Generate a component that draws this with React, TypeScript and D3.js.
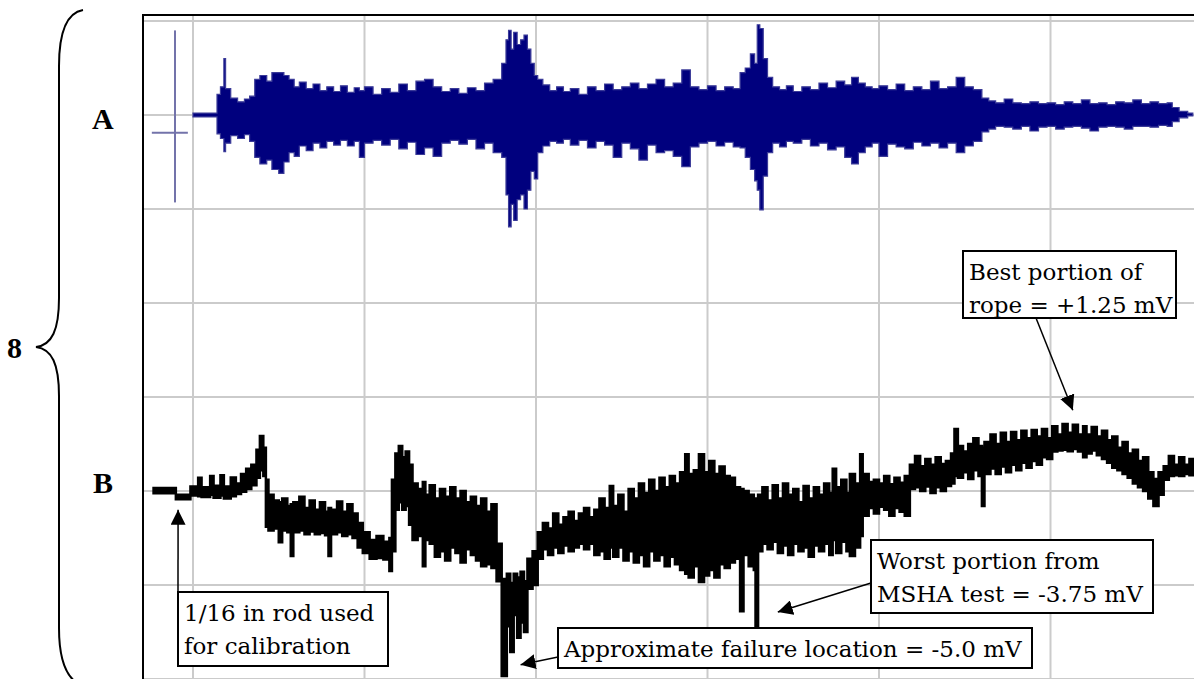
import React, { useEffect, useRef } from 'react'
import * as d3 from 'd3'

// trace A (blue, upper) – envelope in grid divisions, position in tenths of a grid
const aPos = [0, 1.3, 1.4, 1.6, 1.8, 1.9, 2.2, 2.6, 3.0, 3.3, 3.6, 3.9, 4.3, 4.6, 5.0, 5.3, 5.6, 5.9, 6.2, 6.6, 7.0, 7.4, 7.8, 8.2, 8.6, 9.0, 9.4, 9.7, 10.0, 10.5, 11.0, 11.5, 12.0, 12.5, 13.0, 13.5, 14.0, 14.5, 15.0, 15.5, 16.0, 16.5, 17.0, 17.5, 18.0, 18.25, 18.4, 18.55, 18.7, 18.9, 19.1, 19.3, 19.5, 19.7, 19.9, 20.1, 20.4, 20.8, 21.2, 21.6, 22.0, 22.5, 23.0, 23.5, 24.0, 24.5, 25.0, 25.5, 26.0, 26.5, 27.0, 27.5, 28.0, 28.5, 29.0, 29.5, 30.0, 30.5, 31.0, 31.5, 31.9, 32.2, 32.5, 32.75, 32.9, 33.05, 33.25, 33.5, 33.8, 34.2, 34.6, 35.0, 35.5, 36.0, 36.5, 37.0, 37.5, 38.0, 38.4, 38.8, 39.2, 39.6, 40.0, 40.5, 41.0, 41.5, 42.0, 42.5, 43.0, 43.5, 44.0, 44.5, 45.0, 45.5, 46.0, 46.4, 46.8, 47.3, 47.8, 48.3, 48.8, 49.3, 49.8, 50.3, 50.8, 51.3, 51.8, 52.3, 52.8, 53.3, 53.8, 54.3, 54.8, 55.3, 55.8, 56.3, 56.8, 57.1, 57.5, 58.0, 58.3]
const aHigh = [0.02, 0.02, 0.22, 0.3, 0.6, 0.28, 0.18, 0.14, 0.17, 0.2, 0.38, 0.42, 0.36, 0.45, 0.45, 0.42, 0.38, 0.3, 0.35, 0.28, 0.33, 0.26, 0.3, 0.25, 0.31, 0.24, 0.29, 0.26, 0.3, 0.22, 0.28, 0.24, 0.33, 0.26, 0.36, 0.38, 0.3, 0.25, 0.28, 0.23, 0.29, 0.26, 0.34, 0.38, 0.55, 0.8, 0.9, 0.7, 0.88, 0.75, 0.8, 0.85, 0.7, 0.55, 0.42, 0.38, 0.32, 0.26, 0.3, 0.25, 0.28, 0.22, 0.3, 0.26, 0.33, 0.27, 0.3, 0.34, 0.28, 0.33, 0.38, 0.3, 0.34, 0.48, 0.3, 0.27, 0.31, 0.26, 0.3, 0.28, 0.45, 0.5, 0.65, 0.55, 0.96, 0.92, 0.6, 0.4, 0.3, 0.27, 0.31, 0.25, 0.3, 0.27, 0.34, 0.29, 0.36, 0.32, 0.4, 0.34, 0.3, 0.28, 0.31, 0.27, 0.33, 0.26, 0.3, 0.27, 0.36, 0.28, 0.3, 0.4, 0.3, 0.27, 0.18, 0.15, 0.13, 0.17, 0.13, 0.12, 0.14, 0.12, 0.13, 0.11, 0.14, 0.12, 0.16, 0.12, 0.13, 0.11, 0.14, 0.13, 0.16, 0.12, 0.14, 0.12, 0.13, 0.08, 0.04, 0.02, 0.01]
const aLow = [-0.02, -0.02, -0.2, -0.25, -0.39, -0.3, -0.22, -0.25, -0.21, -0.28, -0.45, -0.52, -0.48, -0.58, -0.62, -0.5, -0.4, -0.44, -0.33, -0.38, -0.3, -0.35, -0.28, -0.32, -0.27, -0.33, -0.28, -0.45, -0.3, -0.27, -0.32, -0.26, -0.36, -0.29, -0.42, -0.35, -0.44, -0.3, -0.27, -0.31, -0.26, -0.36, -0.3, -0.4, -0.45, -0.85, -1.19, -0.95, -1.12, -0.9, -0.85, -1.0, -0.8, -0.6, -0.68, -0.4, -0.33, -0.28, -0.3, -0.26, -0.32, -0.27, -0.35, -0.28, -0.32, -0.45, -0.3, -0.36, -0.48, -0.32, -0.4, -0.38, -0.44, -0.55, -0.34, -0.3, -0.28, -0.33, -0.29, -0.34, -0.35, -0.45, -0.58, -0.7, -0.8, -1.01, -0.65, -0.4, -0.3, -0.34, -0.28, -0.3, -0.26, -0.33, -0.3, -0.37, -0.34, -0.45, -0.52, -0.4, -0.34, -0.3, -0.44, -0.31, -0.34, -0.36, -0.29, -0.33, -0.3, -0.35, -0.3, -0.4, -0.33, -0.28, -0.18, -0.15, -0.12, -0.13, -0.15, -0.12, -0.17, -0.13, -0.12, -0.15, -0.13, -0.12, -0.14, -0.17, -0.13, -0.12, -0.13, -0.15, -0.12, -0.12, -0.13, -0.11, -0.12, -0.07, -0.03, -0.01, -0.01]

// calibration pulse of trace A
const calPos = [-2.4, -1.05, -0.3]
const calVals = [0.9, -0.19, -0.93]

// trace B (black, lower) – envelope in mV
const bPos = [-2.3, -1.0, -0.15, 0.3, 0.5, 1.0, 1.2, 1.6, 1.8, 2.2, 2.5, 2.8, 3.1, 3.4, 3.7, 3.9, 4.1, 4.25, 4.4, 4.7, 5.0, 5.2, 5.5, 5.7, 5.85, 6.2, 6.5, 6.8, 7.1, 7.4, 7.7, 7.9, 8.05, 8.4, 8.7, 9.0, 9.3, 9.6, 9.9, 10.3, 10.7, 11.1, 11.45, 11.6, 11.8, 12.0, 12.2, 12.4, 12.6, 12.8, 13.1, 13.4, 13.55, 13.8, 14.1, 14.4, 14.7, 15.0, 15.3, 15.6, 15.9, 16.2, 16.5, 16.8, 17.1, 17.4, 17.7, 18.0, 18.3, 18.5, 18.7, 18.9, 19.1, 19.3, 19.5, 19.8, 20.1, 20.4, 20.7, 21.0, 21.3, 21.6, 21.9, 22.2, 22.5, 22.8, 23.1, 23.4, 23.7, 24.0, 24.3, 24.5, 24.8, 25.1, 25.4, 25.7, 26.0, 26.3, 26.6, 26.9, 27.2, 27.5, 27.8, 28.1, 28.4, 28.7, 28.9, 29.2, 29.5, 29.8, 30.1, 30.4, 30.7, 31.0, 31.3, 31.6, 31.9, 32.1, 32.4, 32.7, 32.8, 32.95, 33.2, 33.5, 33.8, 34.1, 34.4, 34.7, 35.0, 35.3, 35.6, 35.9, 36.2, 36.5, 36.8, 37.1, 37.3, 37.5, 37.8, 38.1, 38.3, 38.6, 38.9, 39.05, 39.4, 39.7, 40.0, 40.3, 40.6, 40.9, 41.2, 41.5, 41.8, 42.1, 42.4, 42.7, 43.0, 43.3, 43.6, 43.9, 44.2, 44.4, 44.6, 44.9, 45.2, 45.5, 45.8, 46.0, 46.15, 46.5, 46.8, 47.1, 47.4, 47.7, 48.0, 48.3, 48.6, 48.9, 49.2, 49.5, 49.8, 50.1, 50.4, 50.7, 51.0, 51.3, 51.6, 51.9, 52.1, 52.4, 52.7, 53.0, 53.3, 53.6, 53.9, 54.2, 54.5, 54.8, 55.1, 55.4, 55.7, 56.0, 56.3, 56.6, 56.9, 57.2, 57.5, 57.8, 58.1, 58.35]
const bHigh = [0.08, -0.1, 0.12, 0.35, 0.1, 0.4, 0.14, 0.42, 0.12, 0.36, 0.2, 0.45, 0.59, 0.7, 1.1, 1.46, 1.15, 0.3, -0.1, -0.25, -0.3, -0.2, -0.4, -0.35, -0.3, -0.15, -0.45, -0.25, -0.5, -0.3, -0.55, -0.45, -0.5, -0.28, -0.55, -0.35, -0.6, -0.85, -1.1, -1.3, -1.2, -1.35, -1.25, 0.3, 1.0, 1.2, 0.9, 1.05, 0.7, 0.2, 0.05, 0.24, -0.1, 0.15, -0.2, 0.05, -0.15, 0.1, -0.2, 0.0, -0.3, -0.15, -0.4, -0.2, -0.55, -0.35, -1.4, -2.34, -2.2, -2.45, -2.2, -2.3, -2.15, -2.4, -1.8, -1.6, -1.1, -0.85, -1.0, -0.6, -0.9, -0.7, -0.55, -0.8, -0.6, -0.45, -0.7, -0.5, -0.2, -0.45, 0.13, -0.4, -0.1, -0.55, 0.05, -0.2, 0.2, -0.05, 0.3, 0.0, 0.35, 0.1, 0.4, 0.2, 0.5, 0.98, 0.45, 0.55, 0.98, 0.5, 0.8, 0.45, 0.65, 0.4, 0.35, 0.1, 0.05, 0.0, -0.1, -0.2, -0.2, -0.1, 0.1, -0.25, 0.15, -0.2, 0.2, -0.1, 0.05, -0.3, 0.13, -0.2, 0.1, -0.1, 0.2, -0.05, 0.59, 0.1, 0.3, -0.05, 0.45, 0.2, 0.98, 0.45, 0.24, 0.3, 0.2, 0.4, 0.18, 0.35, 0.22, 0.4, 0.7, 0.93, 0.66, 0.85, 0.7, 0.9, 0.72, 0.8, 1.0, 1.65, 1.2, 1.05, 1.25, 1.4, 1.2, 1.15, 1.3, 1.5, 1.25, 1.55, 1.3, 1.57, 1.35, 1.6, 1.4, 1.62, 1.45, 1.65, 1.4, 1.72, 1.5, 1.78, 1.55, 1.76, 1.5, 1.72, 1.5, 1.7, 1.45, 1.6, 1.35, 1.45, 1.15, 1.3, 1.0, 1.1, 0.8, 0.9, 0.5, 0.32, 0.5, 0.66, 0.93, 0.7, 0.9, 0.7, 0.85, 0.85]
const bLow = [-0.06, -0.22, -0.12, -0.14, -0.16, -0.1, -0.18, -0.12, -0.2, -0.14, -0.08, -0.02, 0.05, 0.15, 0.35, 0.55, 0.4, -0.95, -1.05, -1.0, -1.36, -1.05, -1.1, -1.73, -1.1, -1.05, -1.15, -1.08, -1.15, -1.12, -1.18, -1.73, -1.15, -1.1, -1.2, -1.15, -1.25, -1.5, -1.65, -1.8, -1.78, -1.82, -2.13, -1.6, -0.5, -0.3, -0.5, -0.4, -0.9, -1.3, -1.2, -2.0, -1.3, -1.4, -1.75, -1.6, -1.85, -1.5, -1.65, -1.9, -1.55, -1.7, -1.85, -2.0, -1.95, -2.05, -2.4, -4.92, -3.6, -4.28, -3.3, -3.9, -3.5, -3.75, -2.6, -2.5, -1.8, -1.55, -1.7, -1.5, -1.65, -1.45, -1.6, -1.5, -1.4, -1.55, -1.4, -1.7, -1.6, -1.8, -1.5, -1.75, -1.5, -1.85, -1.6, -1.9, -1.7, -2.0, -1.6, -1.85, -1.7, -2.0, -1.75, -1.95, -2.1, -2.2, -2.3, -2.0, -2.42, -2.25, -2.1, -2.3, -1.95, -2.05, -1.9, -1.8, -3.2, -1.7, -2.0, -2.1, -3.75, -1.6, -1.4, -1.55, -1.35, -1.65, -1.45, -1.7, -1.4, -1.6, -1.5, -1.75, -1.45, -1.6, -1.4, -1.7, -1.3, -1.65, -1.35, -1.6, -1.73, -1.5, -1.2, -0.66, -0.45, -0.6, -0.42, -0.5, -0.66, -0.45, -0.55, -0.66, 0.05, 0.1, 0.0, 0.12, -0.05, 0.1, 0.0, 0.13, 0.2, 0.4, 0.35, 0.5, 0.32, 0.55, 0.4, -0.4, 0.45, 0.6, 0.45, 0.65, 0.5, 0.7, 0.55, 0.75, 0.62, 0.8, 0.7, 0.9, 0.85, 1.05, 1.08, 1.1, 1.06, 1.12, 1.05, 0.9, 1.0, 1.08, 0.95, 0.85, 0.75, 0.62, 0.55, 0.45, 0.35, 0.2, 0.1, 0.0, -0.2, -0.4, -0.1, 0.3, 0.4, 0.42, 0.4, 0.45, 0.42, 0.42]

// grid
const gridCols = [0, 10, 20, 30, 40, 50]
const gridRows = [0, 1, 2, 3, 4, 5, 6, 7]

// annotation boxes: tip is the data point (position, mV) on trace B the arrow points at
const notes = [
  { lines: ['1/16 in rod used', 'for calibration'], box: [178, 592, 210, 74], from: [178, 592], tip: [-0.87, -0.5] },
  { lines: ['Approximate failure location = -5.0 mV'], box: [558, 628, 474, 40], from: [558, 657], tip: [19.1, -4.62] },
  { lines: ['Worst portion from', 'MSHA test = -3.75 mV'], box: [871, 540, 282, 73], from: [871, 583], tip: [34.1, -3.22] },
  { lines: ['Best portion of', 'rope = +1.25 mV'], box: [963, 251, 213, 67], from: [1036, 318], tip: [51.3, 2.15] },
]

const W = 1194
const H = 679

export default function App() {
  const ref = useRef<SVGSVGElement>(null)

  useEffect(() => {
    const svg = d3.select(ref.current)
    svg.selectAll('*').remove()

    const x = d3.scaleLinear().domain([0, 50]).range([193, 1050.5])
    const row = d3.scaleLinear().domain([0, 7]).range([21, 679])
    const yA = d3.scaleLinear().domain([1, -1]).range([row(0), row(2)])
    const yB = d3.scaleLinear().domain([2.5, -2.5]).range([row(4), row(6)])
    const left = 143
    const top = 15

    svg.append('rect').attr('width', W).attr('height', H).attr('fill', '#fff')

    // grid
    const g = svg.append('g').attr('stroke', '#cbcbcb').attr('stroke-width', 2)
    g.selectAll('line.v').data(gridCols).join('line')
      .attr('x1', d => x(d)).attr('x2', d => x(d)).attr('y1', top).attr('y2', H)
    g.selectAll('line.h').data(gridRows).join('line')
      .attr('x1', left).attr('x2', W).attr('y1', d => row(d)).attr('y2', d => row(d))

    // frame
    svg.append('path').attr('d', `M${left},${H}V${top}H${W}`)
      .attr('fill', 'none').attr('stroke', '#000').attr('stroke-width', 2)

    // trace A
    const aData = aPos.map((p, i) => ({ p, hi: aHigh[i], lo: aLow[i] }))
    const areaA = d3.area<any>().x(d => x(d.p)).y0(d => yA(d.lo)).y1(d => yA(d.hi)).curve(d3.curveStepAfter)
    svg.append('path').attr('d', areaA(aData))
      .attr('fill', '#00007e').attr('stroke', '#3a3a98').attr('stroke-width', 1.2)

    // calibration pulse
    svg.append('g').attr('stroke', '#7373aa').attr('stroke-width', 2)
      .call(gg => {
        gg.append('line').attr('x1', x(calPos[1])).attr('x2', x(calPos[1])).attr('y1', yA(calVals[0])).attr('y2', yA(calVals[2]))
        gg.append('line').attr('x1', x(calPos[0])).attr('x2', x(calPos[2])).attr('y1', yA(calVals[1])).attr('y2', yA(calVals[1]))
      })

    // trace B
    const bData = bPos.map((p, i) => ({ p, hi: bHigh[i], lo: bLow[i] }))
    const areaB = d3.area<any>().x(d => x(d.p)).y0(d => yB(d.lo)).y1(d => yB(d.hi)).curve(d3.curveStepAfter)
    svg.append('path').attr('d', areaB(bData))
      .attr('fill', '#000').attr('stroke', '#000').attr('stroke-width', 2.5).attr('stroke-linejoin', 'miter')

    // brace and side labels
    svg.append('path')
      .attr('d', 'M83,10 C66,13 59,35 59,66 L59,298 C59,330 52,345 36,347 C52,349 59,364 59,396 L59,628 C59,660 66,680 83,686')
      .attr('fill', 'none').attr('stroke', '#000').attr('stroke-width', 2)
    const lab = svg.append('g').attr('font-family', '"Liberation Serif", serif').attr('font-weight', 'bold').attr('font-size', 30)
    lab.append('text').attr('x', 92).attr('y', 129).text('A')
    lab.append('text').attr('x', 93).attr('y', 493).text('B')
    lab.append('text').attr('x', 7).attr('y', 358).text('8')

    // annotations
    const defs = svg.append('defs')
    defs.append('marker').attr('id', 'ah').attr('viewBox', '0 0 10 10').attr('refX', 10).attr('refY', 5)
      .attr('markerWidth', 15).attr('markerHeight', 15).attr('markerUnits', 'userSpaceOnUse').attr('orient', 'auto')
      .append('path').attr('d', 'M0,0L10,5L0,10Z').attr('fill', '#000')

    const ng = svg.append('g').attr('font-family', '"DejaVu Serif", serif').attr('font-size', 23)
    notes.forEach(n => {
      ng.append('line').attr('x1', n.from[0]).attr('y1', n.from[1])
        .attr('x2', x(n.tip[0])).attr('y2', yB(n.tip[1]))
        .attr('stroke', '#000').attr('stroke-width', 1.5).attr('marker-end', 'url(#ah)')
      const [bx, by, bw, bh] = n.box
      ng.append('rect').attr('x', bx).attr('y', by).attr('width', bw).attr('height', bh)
        .attr('fill', '#fff').attr('stroke', '#000').attr('stroke-width', 2)
      n.lines.forEach((t, i) => {
        ng.append('text').attr('x', bx + 6).attr('y', by + 29 + i * 33).text(t)
      })
    })
  }, [])

  return (
    <svg ref={ref} width={W} height={H}
      style={{ position: 'absolute', left: 0, top: 0, display: 'block' }} />
  )
}
